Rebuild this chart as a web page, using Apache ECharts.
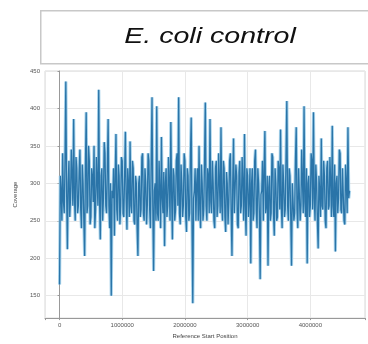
<!DOCTYPE html>
<html>
<head>
<meta charset="utf-8">
<script src="https://cdn.jsdelivr.net/npm/echarts@6/dist/echarts.min.js"></script>
<style>html,body{margin:0;padding:0;background:#fff;}#c{width:368px;height:344px;}</style>
</head>
<body>
<div id="c"></div>
<script>
const titleText = "E. coli control";
const xAxisName = "Reference Start Position";
const yAxisName = "Coverage";
const binSize = 12500;
const coverage = [
165,310,290,250,340,275,260,330,436,290,212,300,330,255,280,345,310,270,386,280,
250,335,320,260,270,315,345,265,240,325,300,250,203,320,395,260,270,350,330,245,
255,320,310,275,350,240,265,335,300,270,425,280,225,310,320,250,280,355,340,270,
260,320,386,270,240,300,150,290,280,320,230,305,366,265,250,325,310,245,270,335,
330,260,255,310,369,280,238,320,300,255,356,270,260,330,320,250,245,310,300,240,
203,300,310,255,265,335,340,260,250,320,300,245,270,340,330,265,240,330,415,270,
183,290,300,250,403,260,250,330,290,240,362,280,260,315,216,300,320,255,270,335,
300,250,382,285,225,320,310,250,265,330,340,270,415,260,245,325,300,255,270,340,
330,255,235,320,310,250,260,335,388,250,140,280,290,320,250,300,320,250,350,265,
240,325,300,250,265,330,408,270,250,320,310,260,386,275,260,330,300,250,240,320,
330,255,270,340,300,260,375,270,250,330,320,255,235,315,300,245,275,330,340,260,
203,300,360,260,260,325,310,245,240,315,330,260,270,335,300,250,366,270,230,320,
310,255,280,320,193,300,320,250,260,330,345,265,240,320,300,260,172,285,290,330,
250,315,370,260,270,310,190,295,310,250,260,340,335,260,230,320,300,250,255,330,
320,265,372,270,240,325,300,255,265,335,410,270,250,320,310,255,190,300,300,250,
260,330,375,265,240,320,320,250,270,345,300,260,403,275,255,320,193,300,310,255,
270,340,330,265,395,280,250,325,300,250,213,310,290,255,360,270,265,330,310,250,
240,320,330,265,270,335,300,255,377,270,255,325,209,300,310,260,280,345,340,265,
260,320,320,250,245,325,300,260,375,280,290
];
const positions = coverage.map((v, i) => i * binSize);
const seriesData = coverage.map((v, i) => [positions[i], v]);

const chart = echarts.init(document.getElementById('c'), null, {renderer: 'canvas'});
const axisFont = {fontFamily: 'Liberation Sans', fontSize: 6, color: '#555'};
chart.setOption({
  animation: false,
  backgroundColor: '#fff',
  graphic: [
    {type: 'rect', left: 40, top: 10, shape: {width: 345, height: 53}, style: {fill: '#fff', stroke: '#c8c8c8', lineWidth: 1.5}, z: 10},
    {type: 'text', x: 210, y: 37, scaleX: 1.3, style: {text: titleText, font: 'italic 22px "Liberation Sans"', fill: '#111', align: 'center', verticalAlign: 'middle'}, z: 11}
  ],
  grid: {left: 45, top: 71, right: -13, bottom: 22, show: true, borderColor: '#d8d8d8', borderWidth: 1},
  xAxis: {
    type: 'value', min: -232000, max: 4872000, splitNumber: 5,
    name: xAxisName, nameLocation: 'middle', nameGap: 12,
    nameTextStyle: {fontFamily: 'Liberation Sans', fontSize: 6, color: '#444'},
    axisLine: {lineStyle: {color: '#999'}},
    axisTick: {show: true, length: 2, lineStyle: {color: '#999'}},
    axisLabel: Object.assign({}, axisFont, {margin: 4, formatter: v => (v % 1000000 === 0 ? String(v) : '')}),
    splitLine: {show: true, lineStyle: {color: '#e8e8e8', width: 1}}
  },
  yAxis: {
    type: 'value', min: 120, max: 450, splitNumber: 7,
    name: yAxisName, nameLocation: 'middle', nameGap: 27, nameRotate: 90,
    nameTextStyle: {fontFamily: 'Liberation Sans', fontSize: 6, color: '#444'},
    axisLine: {show: true, lineStyle: {color: '#999'}},
    axisTick: {show: true, length: 2, lineStyle: {color: '#999'}},
    axisLabel: Object.assign({}, axisFont, {margin: 5, formatter: v => (v % 50 === 0 ? String(v) : '')}),
    splitLine: {show: true, lineStyle: {color: '#e8e8e8', width: 1}}
  },
  series: [
    {type: 'line', data: seriesData, showSymbol: false, lineStyle: {color: '#a9d4ec', width: 3.2}, z: 2, silent: true},
    {type: 'line', data: seriesData, showSymbol: false, lineStyle: {color: '#2a74a8', width: 1.3}, z: 3, silent: true}
  ]
});
</script>
</body>
</html>
